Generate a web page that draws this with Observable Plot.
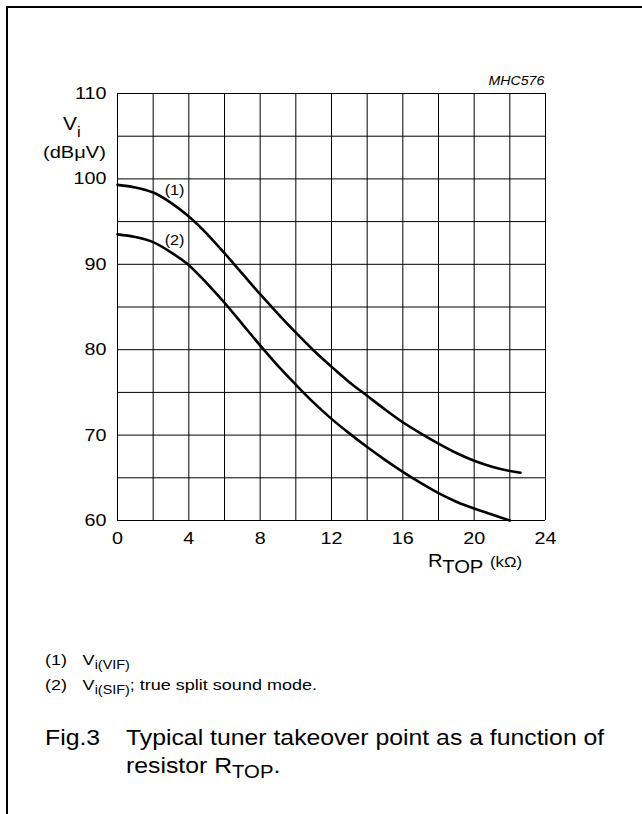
<!DOCTYPE html>
<html>
<head>
<meta charset="utf-8">
<script src="https://cdn.jsdelivr.net/npm/d3@7"></script>
<script src="https://cdn.jsdelivr.net/npm/@observablehq/plot@0.6"></script>
<style>
  html, body { margin: 0; padding: 0; background: #fff; }
  #page { position: relative; width: 642px; height: 814px; overflow: hidden; font-family: "Liberation Sans", Arial, Helvetica, sans-serif; color: #000; }
  #chart { position: absolute; left: 0; top: 0; }
  .t { position: absolute; white-space: nowrap; line-height: 1; transform-origin: left center; }
</style>
</head>
<body>
<div id="page">
  <div style="position:absolute;left:6px;top:6px;width:636px;height:2px;background:#000"></div>
  <div style="position:absolute;left:6px;top:6px;width:2px;height:808px;background:#000"></div>
  <div id="chart"></div>
  <div class="t" style="right:98px;top:75px;font-size:12px;font-style:italic;transform-origin:right center;transform:scaleX(1.18)">MHC576</div>
  <div class="t" style="left:63px;top:114px;font-size:19px;transform:scaleX(1.1)">V<span style="font-size:15px;position:relative;top:7px">i</span></div>
  <div class="t" style="left:43px;top:144px;font-size:17px;transform:scaleX(1.18)">(dBμV)</div>
  <div class="t" style="left:428px;top:552px;font-size:18px;transform:scaleX(1.12)">R<span style="position:relative;top:6px">TOP</span><span style="font-size:15px;margin-left:6px">(kΩ)</span></div>
  <div class="t" style="left:45px;top:652px;font-size:15px;transform:scaleX(1.2)">(1)<span style="margin-left:13px">V</span><span style="font-size:12px;position:relative;top:4px">i(VIF)</span></div>
  <div class="t" style="left:45px;top:677px;font-size:15px;transform:scaleX(1.2)">(2)<span style="margin-left:13px">V</span><span style="font-size:12px;position:relative;top:4px">i(SIF)</span>; true split sound mode.</div>
  <div class="t" style="left:45px;top:727px;font-size:22px;transform:scaleX(1.127)">Fig.3</div>
  <div class="t" style="left:126px;top:727px;font-size:22px;transform:scaleX(1.127)">Typical tuner takeover point as a function of</div>
  <div class="t" style="left:126px;top:755px;font-size:22px;transform:scaleX(1.127)">resistor R<span style="font-size:18px;position:relative;top:5px">TOP</span>.</div>
</div>
<script>
// R_TOP (kΩ)
const rTop = [0, 1, 2, 3, 4, 5, 6, 7, 8, 9, 10, 11, 12, 13, 14, 15, 16, 17, 18, 19, 20, 21, 22];
// Curve (1) Vi(VIF), dBμV (drawn to 22.6 kΩ)
const viVIF = [99.3, 99.0, 98.4, 97.2, 95.6, 93.6, 91.3, 88.9, 86.5, 84.2, 82.0, 79.9, 78.0, 76.2, 74.6, 73.0, 71.5, 70.2, 69.0, 67.9, 67.0, 66.3, 65.8];
const vifEndX = 22.6, vifEndY = 65.6;
// Curve (2) Vi(SIF), dBμV
const viSIF = [93.5, 93.2, 92.6, 91.4, 89.9, 87.8, 85.5, 83.0, 80.5, 78.1, 75.9, 73.8, 71.9, 70.2, 68.6, 67.1, 65.7, 64.4, 63.2, 62.2, 61.4, 60.7, 60.0];

const xTicks = [0, 4, 8, 12, 16, 20, 24];
const yTicks = [60, 70, 80, 90, 100, 110];
const xGrid = [0, 2, 4, 6, 8, 10, 12, 14, 16, 18, 20, 22, 24];
const yGrid = [60, 65, 70, 75, 80, 85, 90, 95, 100, 105, 110];

const curveLabelX = [3.2, 3.2];
const curveLabelY = [98.6, 92.8];
const curveLabelText = ["(1)", "(2)"];

const s1 = rTop.map((x, i) => ({x, y: viVIF[i]})).concat([{x: vifEndX, y: vifEndY}]);
const s2 = rTop.map((x, i) => ({x, y: viSIF[i]}));
const labels = curveLabelText.map((t, i) => ({x: curveLabelX[i], y: curveLabelY[i], t}));

const chart = Plot.plot({
  width: 642,
  height: 600,
  marginLeft: 117,
  marginRight: 97,
  marginTop: 93,
  marginBottom: 80,
  style: {fontFamily: '"Liberation Sans", Arial, sans-serif', fontSize: "17px", color: "#000", background: "transparent", overflow: "visible"},
  x: {domain: [0, 24]},
  y: {domain: [60, 110]},
  marks: [
    Plot.ruleX(xGrid, {stroke: "#000", strokeWidth: 1}),
    Plot.ruleY(yGrid, {stroke: "#000", strokeWidth: 1}),
    Plot.axisX(xTicks, {tickSize: 0, tickPadding: 11, fontSize: 17, label: null}),
    Plot.axisY(yTicks, {tickSize: 0, tickPadding: 11, fontSize: 17, label: null}),
    Plot.line(s1, {x: "x", y: "y", curve: "monotone-x", stroke: "#000", strokeWidth: 2.6}),
    Plot.line(s2, {x: "x", y: "y", curve: "monotone-x", stroke: "#000", strokeWidth: 2.6}),
    Plot.text(labels, {x: "x", y: "y", text: "t", fontSize: 14, fill: "#000"})
  ]
});
document.getElementById("chart").appendChild(chart);

// widen glyphs horizontally (reference typeface is wider than Liberation Sans)
try {
  chart.querySelectorAll("text").forEach((el) => {
    const w = el.getComputedTextLength();
    if (w > 0) {
      el.setAttribute("textLength", (w * 1.16).toFixed(2));
      el.setAttribute("lengthAdjust", "spacingAndGlyphs");
    }
  });
} catch (e) {}
</script>
</body>
</html>
